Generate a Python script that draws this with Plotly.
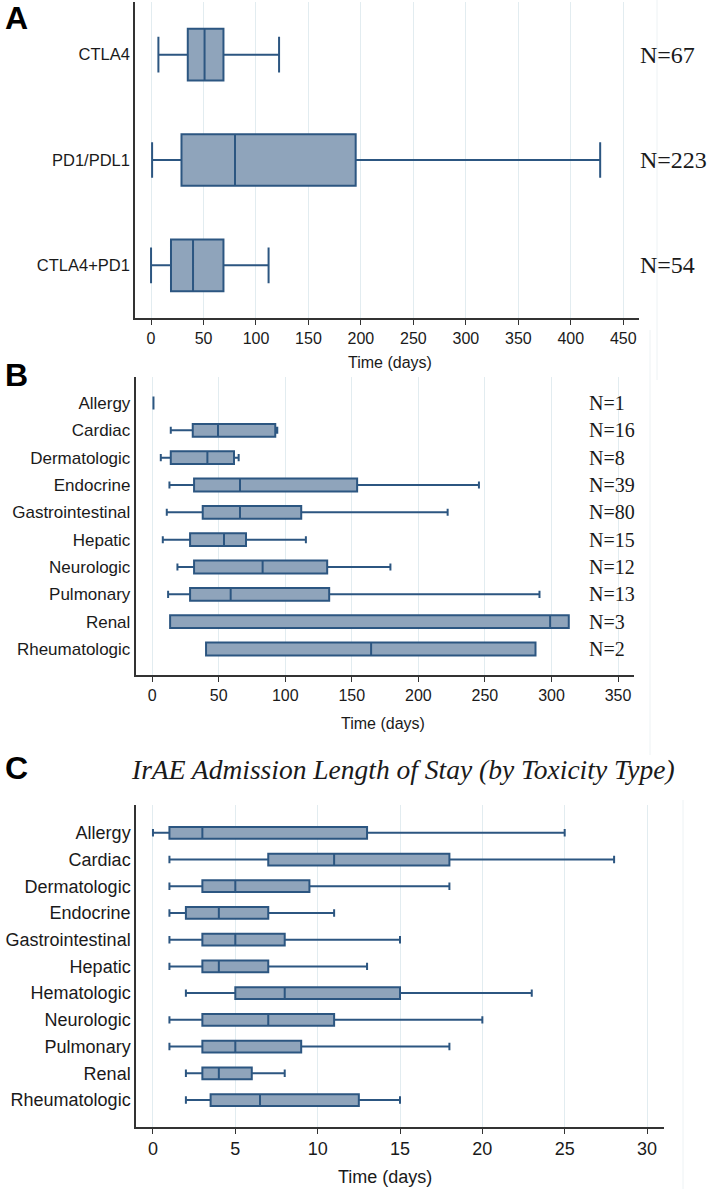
import plotly.graph_objects as go

# ---------------- Panel A data ----------------
a_groups = ["CTLA4", "PD1/PDL1", "CTLA4+PD1"]
a_low = [7, 1, 0]
a_q1 = [35, 29, 19]
a_med = [51, 80, 40]
a_q3 = [69, 195, 69]
a_high = [122, 428, 112]
a_n = ["N=67", "N=223", "N=54"]

# ---------------- Panel B data ----------------
b_groups = ["Allergy", "Cardiac", "Dermatologic", "Endocrine", "Gastrointestinal",
            "Hepatic", "Neurologic", "Pulmonary", "Renal", "Rheumatologic"]
b_low = [1, 14, 6.5, 13, 11, 8, 19, 12, 13.5, 40.5]
b_q1 = [1, 30.5, 14, 31.5, 38, 28.5, 31.5, 28.5, 13.5, 40.5]
b_med = [1, 49.5, 41.5, 66, 66, 54, 83, 59, 299, 164.5]
b_q3 = [1, 92.5, 61.5, 154, 112, 70.5, 131.5, 133, 313, 288]
b_high = [1, 94, 65, 245.5, 222, 115.5, 179, 291, 313, 288]
b_n = ["N=1", "N=16", "N=8", "N=39", "N=80", "N=15", "N=12", "N=13", "N=3", "N=2"]

# ---------------- Panel C data ----------------
c_groups = ["Allergy", "Cardiac", "Dermatologic", "Endocrine", "Gastrointestinal",
            "Hepatic", "Hematologic", "Neurologic", "Pulmonary", "Renal", "Rheumatologic"]
c_low = [0, 1, 1, 1, 1, 1, 2, 1, 1, 2, 2]
c_q1 = [1, 7, 3, 2, 3, 3, 5, 3, 3, 3, 3.5]
c_med = [3, 11, 5, 4, 5, 4, 8, 7, 5, 4, 6.5]
c_q3 = [13, 18, 9.5, 7, 8, 7, 15, 11, 9, 6, 12.5]
c_high = [25, 28, 18, 11, 15, 13, 23, 20, 18, 8, 15]
c_title = "IrAE Admission Length of Stay (by Toxicity Type)"

W, H = 709, 1189
FILL = "#8fa4bb"
LINE = "#2c5681"
GRID = "#e2ecf0"
SANS = "Liberation Sans, Arial, sans-serif"
SERIF = "Liberation Serif, Times New Roman, serif"
TXT = "#1a1a1a"


def px_x(v):
    return v / W


def px_y(v):
    return 1 - v / H


fig = go.Figure()


def add_box(groups, low, q1, med, q3, high, xa, ya, width, ww):
    fig.add_trace(go.Box(
        y=groups, q1=q1, median=med, q3=q3, lowerfence=low, upperfence=high,
        orientation="h", xaxis=xa, yaxis=ya, width=width, whiskerwidth=ww,
        fillcolor=FILL, line=dict(color=LINE, width=2), boxpoints=False,
        showlegend=False, hoverinfo="skip"))


add_box(a_groups, a_low, a_q1, a_med, a_q3, a_high, "x", "y", 0.49, 0.69)
add_box(b_groups, b_low, b_q1, b_med, b_q3, b_high, "x2", "y2", 0.47, 0.55)
add_box(c_groups, c_low, c_q1, c_med, c_q3, c_high, "x3", "y3", 0.44, 0.63)


def xax(domain, yanchor, rng, dtick, fs):
    return dict(domain=domain, anchor=yanchor, range=rng, dtick=dtick, tick0=0,
                showline=True, linecolor="#333333", linewidth=1.5, mirror=False,
                ticks="outside", ticklen=5, tickwidth=1.2, tickcolor="#333333",
                showgrid=True, gridcolor=GRID, gridwidth=1, zeroline=False,
                tickfont=dict(family=SANS, size=fs, color=TXT))


def yax(domain, xanchor, groups, rng, fs):
    return dict(domain=domain, anchor=xanchor, type="category",
                categoryorder="array", categoryarray=groups, range=rng,
                showline=True, linecolor="#333333", linewidth=1.5, mirror=False,
                ticks="", showgrid=False, zeroline=False,
                tickfont=dict(family=SANS, size=fs, color=TXT))


fig.update_layout(
    width=W, height=H, margin=dict(l=0, r=0, t=0, b=0),
    paper_bgcolor="white", plot_bgcolor="white",
    xaxis=xax([px_x(135), px_x(639)], "y", [-15.3, 465], 50, 16),
    yaxis=yax([px_y(318), px_y(2)], "x", a_groups, [2.5, -0.5], 16.5),
    xaxis2=xax([px_x(135.5), px_x(634)], "y2", [-12.5, 362], 50, 16),
    yaxis2=yax([px_y(675), px_y(377)], "x2", b_groups, [9.95, -0.95], 17),
    xaxis3=xax([px_x(136), px_x(664)], "y3", [-1.03, 31.03], 5, 18),
    yaxis3=yax([px_y(1127), px_y(805)], "x3", c_groups, [11.01, -1.04], 18),
)

ann = []
# panel letters
for letter, yy in [("A", 18.5), ("B", 375), ("C", 768)]:
    ann.append(dict(text="<b>" + letter + "</b>", x=px_x(16), y=px_y(yy), xref="paper", yref="paper",
                    showarrow=False, font=dict(family=SANS, size=32, color="black"),
                    xanchor="center", yanchor="middle"))
# axis titles
for xc, yy, fs in [(390, 362, 16), (383, 723, 16), (385, 1177, 18)]:
    ann.append(dict(text="Time (days)", x=px_x(xc), y=px_y(yy), xref="paper", yref="paper",
                    showarrow=False, font=dict(family=SANS, size=fs, color=TXT),
                    xanchor="center", yanchor="middle"))
# panel C title
ann.append(dict(text="<i>" + c_title + "</i>", x=px_x(403), y=px_y(769), xref="paper", yref="paper",
                showarrow=False, font=dict(family=SERIF, size=27.5, color=TXT),
                xanchor="center", yanchor="middle"))
# N labels
for g, t in zip(a_groups, a_n):
    ann.append(dict(text=t, x=px_x(638), y=g, xref="paper", yref="y", showarrow=False,
                    font=dict(family=SERIF, size=24, color=TXT), xanchor="left", yanchor="middle"))
for g, t in zip(b_groups, b_n):
    ann.append(dict(text=t, x=px_x(587), y=g, xref="paper", yref="y2", showarrow=False,
                    font=dict(family=SERIF, size=20, color=TXT), xanchor="left", yanchor="middle"))
fig.update_layout(annotations=ann)

# faint graph-region borders
for x0, y0, y1 in [(657, 0, 380), (650, 330, 755), (683, 800, 1189)]:
    fig.add_shape(type="line", xref="paper", yref="paper", x0=px_x(x0), x1=px_x(x0),
                  y0=px_y(y0), y1=px_y(y1), line=dict(color="#edf2f4", width=1), layer="below")

fig.write_html("out.html", config={"displayModeBar": False},
               post_script="document.body.style.margin='0';document.body.style.overflow='hidden';")
